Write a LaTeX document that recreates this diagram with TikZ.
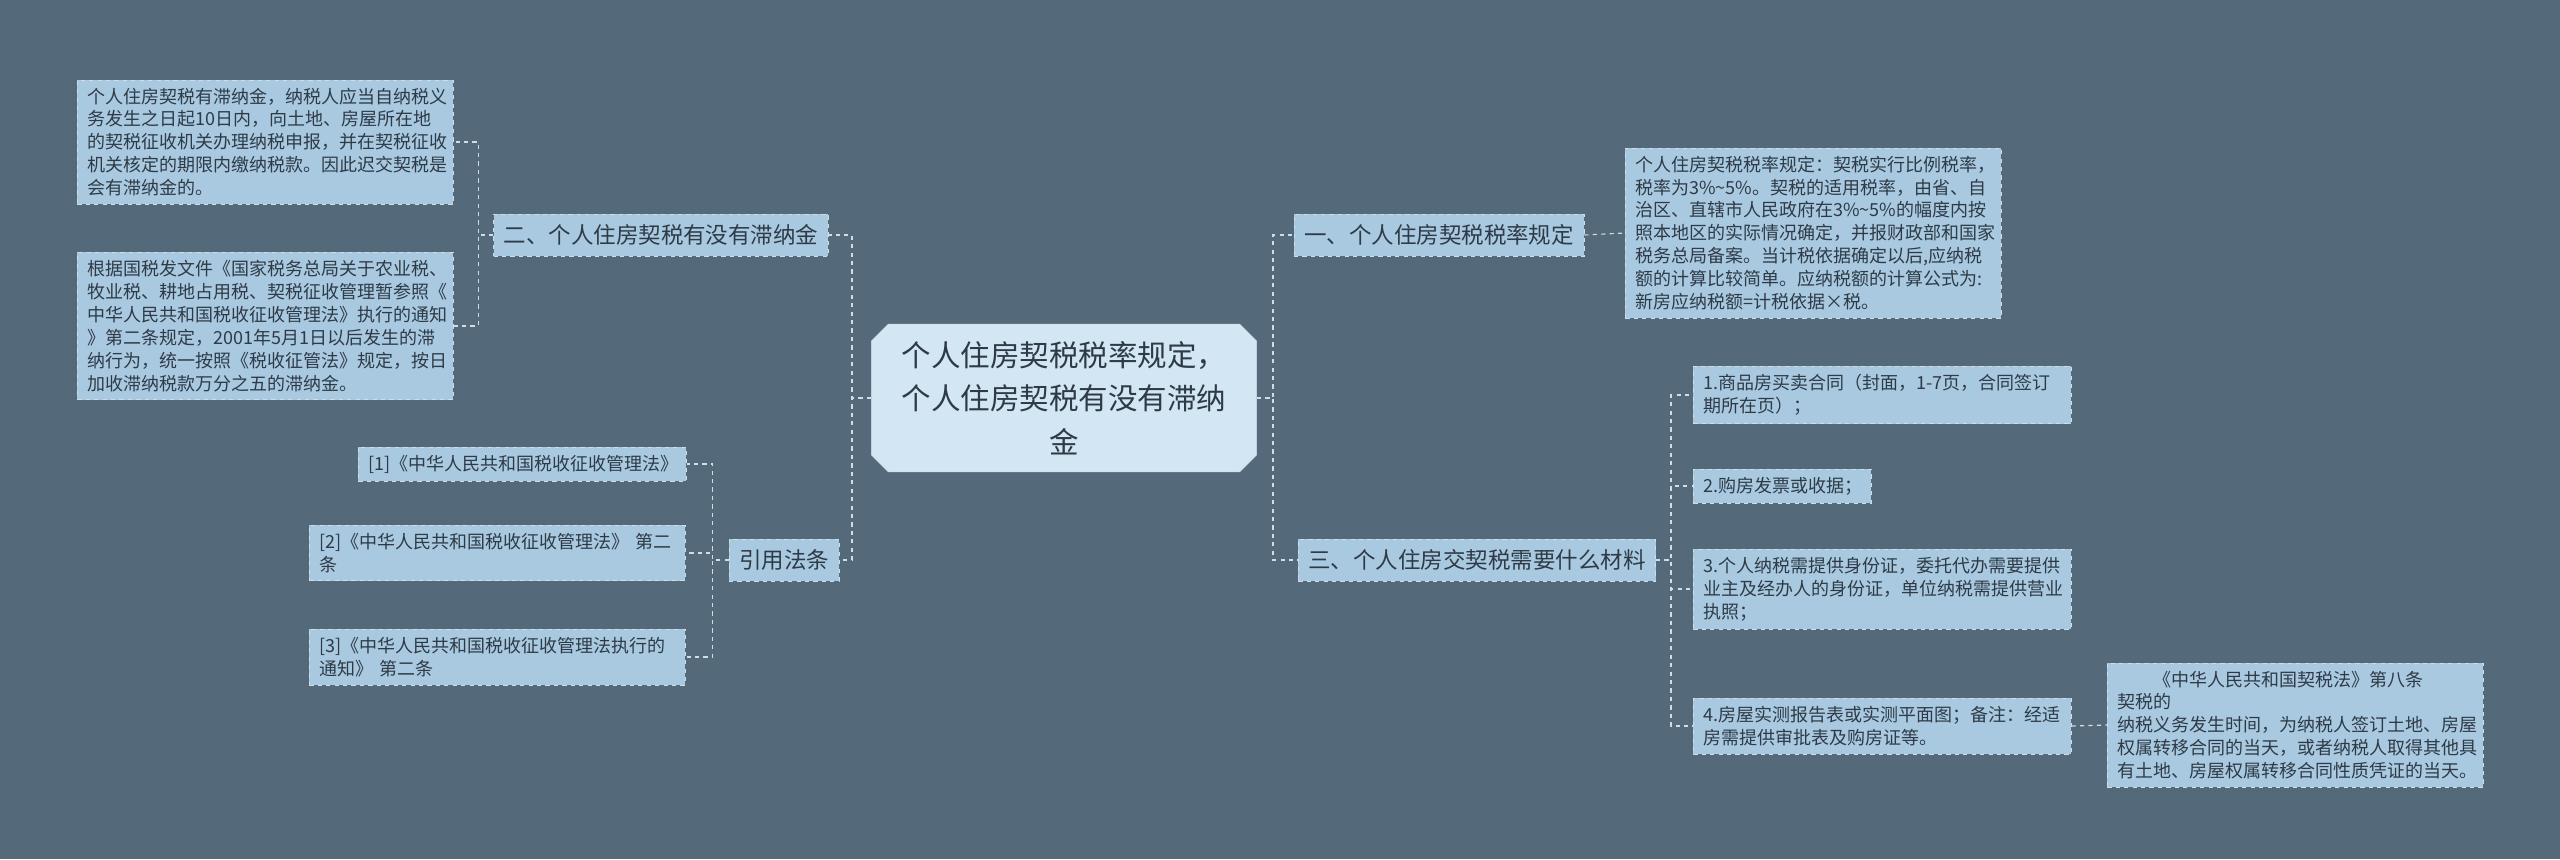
\documentclass[tikz,border=0pt]{standalone}
\usepackage{fontspec}
\setmainfont{Noto Sans CJK SC}
\usetikzlibrary{shapes.misc}
\definecolor{mpBg}{HTML}{546979}
\definecolor{mpBox}{HTML}{A9C9E1}
\definecolor{mpRoot}{HTML}{D2E6F3}
\definecolor{mpText}{HTML}{2E3B46}
\definecolor{mpEdge}{HTML}{D0DCE6}
\tikzset{
  leaf/.style={draw=mpEdge, dashed, fill=mpBox, text=mpText, anchor=west,
    align=left, inner xsep=2.5mm, inner ysep=2mm, font=\fontsize{12.8}{16.3}\selectfont},
  branch/.style={draw=mpEdge, dashed, fill=mpBox, text=mpText,
    inner xsep=2.5mm, inner ysep=2.6mm, font=\fontsize{16}{19}\selectfont},
  link/.style={draw=mpEdge, dashed, line width=0.8pt}
}
\begin{document}
\begin{tikzpicture}[x=0.25mm,y=-0.25mm]
  \fill[mpBg] (0,0) rectangle (2560,859);
  \useasboundingbox (0,0) rectangle (2560,859);

  % root
  \node[chamfered rectangle, chamfered rectangle xsep=3mm, fill=mpRoot, draw=mpEdge,
    text=mpText, align=center, text width=88mm, inner ysep=3mm,
    font=\fontsize{21}{31}\selectfont] (root) at (1064,398)
    {个人住房契税税率规定，\\个人住房契税有没有滞纳\\金};

  % left side
  \node[branch] (late) at (661,235) {二、个人住房契税有没有滞纳金};
  \node[leaf, text width=89mm] (late1) at (77,142)
    {个人住房契税有滞纳金，纳税人应当自纳税义\\务发生之日起10日内，向土地、房屋所在地\\的契税征收机关办理纳税申报，并在契税征收\\机关核定的期限内缴纳税款。因此迟交契税是\\会有滞纳金的。};
  \node[leaf, text width=89mm] (late2) at (77,326)
    {根据国税发文件《国家税务总局关于农业税、\\牧业税、耕地占用税、契税征收管理暂参照《\\中华人民共和国税收征收管理法》执行的通知\\》第二条规定，2001年5月1日以后发生的滞\\纳行为，统一按照《税收征管法》规定，按日\\加收滞纳税款万分之五的滞纳金。};

  \node[branch] (cite) at (784,560) {引用法条};
  \node[leaf, text width=77mm] (cite1) at (358,464) {[1]《中华人民共和国税收征收管理法》};
  \node[leaf, text width=89mm] (cite2) at (309,553) {[2]《中华人民共和国税收征收管理法》 第二\\条};
  \node[leaf, text width=89mm] (cite3) at (309,657) {[3]《中华人民共和国税收征收管理法执行的\\通知》 第二条};

  % right side
  \node[branch] (rate) at (1439,235) {一、个人住房契税税率规定};
  \node[leaf, text width=89mm] (rate1) at (1625,233)
    {个人住房契税税率规定：契税实行比例税率，\\税率为3\%\textasciitilde5\%。契税的适用税率，由省、自\\治区、直辖市人民政府在3\%\textasciitilde5\%的幅度内按\\照本地区的实际情况确定，并报财政部和国家\\税务总局备案。当计税依据确定以后,应纳税\\额的计算比较简单。应纳税额的计算公式为:\\新房应纳税额=计税依据×税。};

  \node[branch] (docs) at (1477,560) {三、个人住房交契税需要什么材料};
  \node[leaf, text width=89.5mm] (docs1) at (1693,395) {1.商品房买卖合同（封面，1-7页，合同签订\\期所在页）；};
  \node[leaf, text width=39.5mm] (docs2) at (1693,486) {2.购房发票或收据；};
  \node[leaf, text width=89.5mm] (docs3) at (1693,589) {3.个人纳税需提供身份证，委托代办需要提供\\业主及经办人的身份证，单位纳税需提供营业\\执照；};
  \node[leaf, text width=89.5mm] (docs4) at (1693,726) {4.房屋实测报告表或实测平面图；备注：经适\\房需提供审批表及购房证等。};
  \node[leaf, text width=89mm] (law) at (2107,725) {\hspace*{2em}《中华人民共和国契税法》第八条 契税的\\纳税义务发生时间，为纳税人签订土地、房屋\\权属转移合同的当天，或者纳税人取得其他具\\有土地、房屋权属转移合同性质凭证的当天。};

  % links
  \foreach \c in {late,cite} \draw[link] (root.west) -- ++(-19,0) |- (\c.east);
  \foreach \c in {late1,late2} \draw[link] (late.west) -- ++(-15,0) |- (\c.east);
  \foreach \c in {cite1,cite2,cite3} \draw[link] (cite.west) -- ++(-16,0) |- (\c.east);
  \foreach \c in {rate,docs} \draw[link] (root.east) -- ++(16,0) |- (\c.west);
  \draw[link] (rate.east) -- (rate1.west);
  \foreach \c in {docs1,docs2,docs3,docs4} \draw[link] (docs.east) -- ++(15,0) |- (\c.west);
  \draw[link] (docs4.east) -- (law.west);
\end{tikzpicture}
\end{document}
